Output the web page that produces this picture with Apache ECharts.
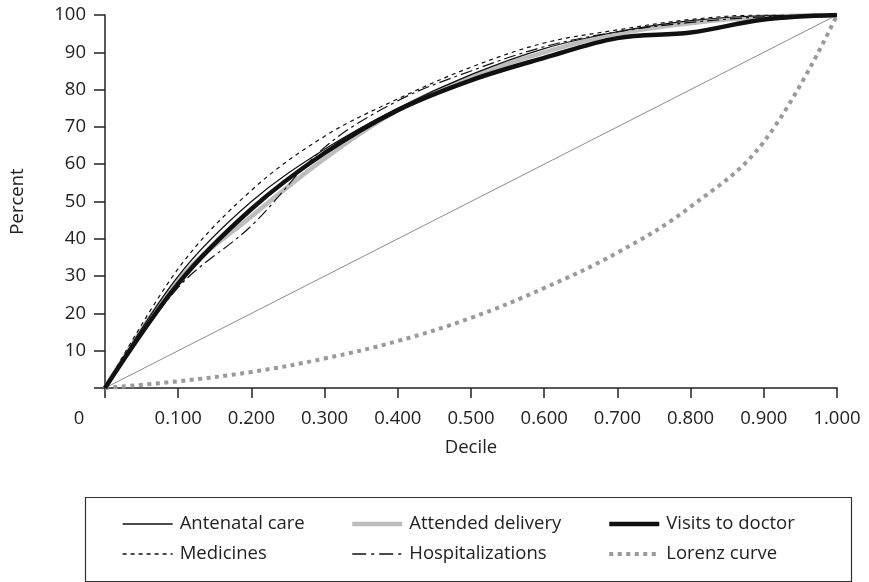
<!DOCTYPE html>
<html>
<head>
<meta charset="utf-8">
<script src="https://cdn.jsdelivr.net/npm/echarts@6/dist/echarts.min.js"></script>
<style>html,body{margin:0;padding:0;background:#fff}#c{width:869px;height:582px}</style>
</head>
<body>
<div id="c"></div>
<script>
const deciles = [0, 0.1, 0.2, 0.3, 0.4, 0.5, 0.6, 0.7, 0.8, 0.9, 1.0];
const antenatalCare = [0, 30, 50, 64, 75, 84, 91, 95.5, 98.5, 99.8, 100];
const attendedDelivery = [0, 29, 46, 61.5, 74.5, 83.5, 90, 95, 97.8, 99.5, 100];
const visitsToDoctor = [0, 28, 48, 63, 74.5, 82.5, 88.5, 93.8, 95.3, 98.8, 100];
const medicines = [0, 32, 53, 67.5, 77.5, 86, 92.5, 96, 98.8, 100, 100];
const hospitalizations = [0, 27, 43.5, 64.5, 77, 85, 91.5, 95.5, 98, 99.5, 100];
const lorenzCurve = [0, 1.8, 4.3, 7.9, 12.6, 18.8, 26.8, 36.3, 48.6, 66, 100];
const equality = [0, 100];
const equalityX = [0, 1];

const pairs = (xs, ys) => xs.map((x, i) => [x, ys[i]]);
const FONT = 'Open Sans';
const FS = 18.5;
const TXT = '#222';

const chart = echarts.init(document.getElementById('c'), null, {renderer: 'canvas'});
const legendCommon = {
  orient: 'vertical', top: 513, itemGap: 8, itemWidth: 50, itemHeight: 14, padding: 0,
  itemStyle: {opacity: 0},
  textStyle: {fontFamily: FONT, fontSize: FS, color: TXT, lineHeight: 22, padding: [0, 0, 0, 2]},
  selectedMode: false
};
chart.setOption({
  animation: false,
  textStyle: {fontFamily: FONT},
  grid: {left: 103, right: 32, top: 15, bottom: 194},
  xAxis: {
    type: 'value', min: 0, max: 1, interval: 0.1,
    name: 'Decile', nameLocation: 'middle', nameGap: 50,
    nameTextStyle: {fontFamily: FONT, fontSize: FS, color: TXT},
    axisLine: {lineStyle: {color: '#222', width: 1.5}},
    axisTick: {show: true, length: 10, lineStyle: {color: '#222', width: 1.5}},
    splitLine: {show: false},
    axisLabel: {
      margin: 21, fontFamily: FONT, fontSize: FS, color: TXT,
      formatter: v => v === 0 ? '{z|0}' : v.toFixed(3),
      rich: {z: {fontFamily: FONT, fontSize: FS, color: TXT, padding: [0, 52, 0, 0]}}
    }
  },
  yAxis: {
    type: 'value', min: 0, max: 100, interval: 10,
    name: 'Percent', nameLocation: 'middle', nameGap: 78,
    nameTextStyle: {fontFamily: FONT, fontSize: FS, color: TXT},
    axisLine: {show: true, lineStyle: {color: '#222', width: 1.5}},
    axisTick: {show: true, length: 11, lineStyle: {color: '#222', width: 1.5}},
    splitLine: {show: false},
    axisLabel: {
      margin: 19, fontFamily: FONT, fontSize: FS, color: TXT,
      formatter: v => v === 0 ? '' : String(v)
    }
  },
  legend: [
    Object.assign({left: 122, data: [
      {name: 'Antenatal care', lineStyle: {width: 1.3}},
      {name: 'Medicines', lineStyle: {width: 1.3}}
    ]}, legendCommon),
    Object.assign({left: 350, data: [
      {name: 'Attended delivery', lineStyle: {width: 4.5}},
      {name: 'Hospitalizations', lineStyle: {width: 1.3, type: [14, 5, 3, 5]}}
    ]}, legendCommon),
    Object.assign({left: 607, data: [
      {name: 'Visits to doctor', lineStyle: {width: 4.5}},
      {name: 'Lorenz curve', lineStyle: {width: 4}}
    ]}, legendCommon)
  ],
  graphic: [{
    type: 'rect', shape: {x: 85.5, y: 497.5, width: 766, height: 84},
    style: {fill: 'none', stroke: '#333', lineWidth: 1.2}, silent: true
  }],
  series: [
    {name: 'Equality', type: 'line', data: pairs(equalityX, equality), symbol: 'none',
     lineStyle: {color: '#8c8c8c', width: 1}, z: 1},
    {name: 'Lorenz curve', type: 'line', data: pairs(deciles, lorenzCurve), symbol: 'none', smooth: 0.4,
     itemStyle: {color: '#9a9a9a'},
     lineStyle: {color: '#9a9a9a', width: 4, type: [4, 4.5], cap: 'butt'}, z: 2},
    {name: 'Attended delivery', type: 'line', data: pairs(deciles, attendedDelivery), symbol: 'none', smooth: 0.35,
     itemStyle: {color: '#bdbdbd'},
     lineStyle: {color: '#bdbdbd', width: 4.5}, z: 3},
    {name: 'Antenatal care', type: 'line', data: pairs(deciles, antenatalCare), symbol: 'none', smooth: 0.35,
     itemStyle: {color: '#111'},
     lineStyle: {color: '#111', width: 1.2}, z: 4},
    {name: 'Medicines', type: 'line', data: pairs(deciles, medicines), symbol: 'none', smooth: 0.35,
     itemStyle: {color: '#111'},
     lineStyle: {color: '#111', width: 1.2, type: [4, 4]}, z: 5},
    {name: 'Hospitalizations', type: 'line', data: pairs(deciles, hospitalizations), symbol: 'none', smooth: 0.35,
     itemStyle: {color: '#111'},
     lineStyle: {color: '#111', width: 1.2, type: [12, 4, 3, 4]}, z: 6},
    {name: 'Visits to doctor', type: 'line', data: pairs(deciles, visitsToDoctor), symbol: 'none', smooth: 0.35,
     itemStyle: {color: '#111'},
     lineStyle: {color: '#111', width: 4.5}, z: 7}
  ]
});
</script>
</body>
</html>
